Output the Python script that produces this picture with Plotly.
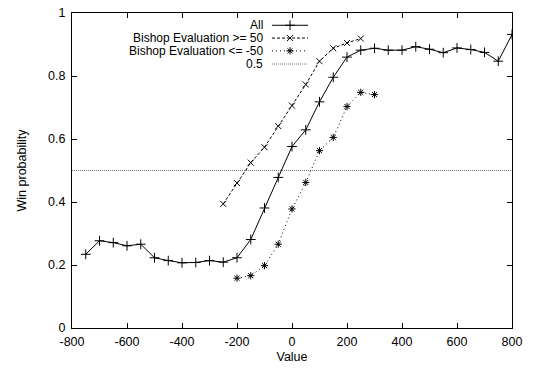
import plotly.graph_objects as go

x_all = [-750, -700, -650, -600, -550, -500, -450, -400, -350, -300, -250, -200, -150, -100, -50,
         0, 50, 100, 150, 200, 250, 300, 350, 400, 450, 500, 550, 600, 650, 700, 750, 800]
y_all = [0.234, 0.277, 0.271, 0.261, 0.266, 0.223, 0.214, 0.207, 0.208, 0.214, 0.209, 0.223, 0.281, 0.381, 0.478,
         0.576, 0.629, 0.718, 0.796, 0.860, 0.882, 0.888, 0.882, 0.882, 0.893, 0.885, 0.874, 0.889, 0.884, 0.875, 0.847, 0.932]

x_ge50 = [-250, -200, -150, -100, -50, 0, 50, 100, 150, 200, 250]
y_ge50 = [0.394, 0.460, 0.525, 0.574, 0.641, 0.706, 0.773, 0.847, 0.888, 0.905, 0.919]

x_le50 = [-200, -150, -100, -50, 0, 50, 100, 150, 200, 250, 300]
y_le50 = [0.158, 0.166, 0.198, 0.266, 0.378, 0.462, 0.563, 0.605, 0.703, 0.748, 0.741]

x_ref = [-800, 800]
y_ref = [0.5, 0.5]

legend_names = ["All", "Bishop Evaluation >= 50", "Bishop Evaluation <= -50", "0.5"]
x_ticks = [-800, -600, -400, -200, 0, 200, 400, 600, 800]
y_ticks = [0, 0.2, 0.4, 0.6, 0.8, 1]
y_ticklabels = ["0", "0.2", "0.4", "0.6", "0.8", "1"]

FONT = "Liberation Sans, Arial, sans-serif"
FS = 12.5
KFS = 12

ref_line = dict(color="#555", width=0.8, dash="1px,1px")
all_line = dict(color="black", width=1)
ge_line = dict(color="black", width=1, dash="3px,2px")
le_line = dict(color="black", width=1, dash="1px,3px")
all_marker = dict(symbol="cross-thin", size=7, color="black", line=dict(color="black", width=1))
ge_marker = dict(symbol="x-thin", size=6, color="black", line=dict(color="black", width=1))
le_marker = dict(symbol="asterisk-open", size=6, color="black", line=dict(color="black", width=1))

fig = go.Figure()
fig.add_trace(go.Scatter(x=x_ref, y=y_ref, mode="lines", line=ref_line, showlegend=False))
fig.add_trace(go.Scatter(x=x_all, y=y_all, mode="lines+markers", line=all_line, marker=all_marker, showlegend=False))
fig.add_trace(go.Scatter(x=x_ge50, y=y_ge50, mode="lines+markers", line=ge_line, marker=ge_marker, showlegend=False))
fig.add_trace(go.Scatter(x=x_le50, y=y_le50, mode="lines+markers", line=le_line, marker=le_marker, showlegend=False))

# gnuplot-style key drawn on an overlay axis in plot-fraction units
styles = [(all_line, all_marker), (ge_line, ge_marker), (le_line, le_marker), (ref_line, None)]
key_rows = [24.8, 37.6, 50.4, 63.6]  # pixel rows of the key entries
pw, ph = 440, 315.5
top = 12.5
left = 72
for name, (ln, mk), row in zip(legend_names, styles, key_rows):
    yy = 1 - (row - top) / ph
    x0 = (272 - left) / pw
    x1 = (308 - left) / pw
    xm = (290 - left) / pw
    fig.add_trace(go.Scatter(x=[x0, x1], y=[yy, yy], xaxis="x2", yaxis="y2", mode="lines",
                             line=ln, showlegend=False, hoverinfo="skip"))
    if mk is not None:
        fig.add_trace(go.Scatter(x=[xm], y=[yy], xaxis="x2", yaxis="y2", mode="markers",
                                 marker=mk, showlegend=False, hoverinfo="skip"))
    fig.add_annotation(x=(265 - left) / pw, y=yy, xref="x2", yref="y2", text=name,
                       showarrow=False, xanchor="right", yanchor="middle",
                       font=dict(family=FONT, size=KFS, color="black"))

axis_common = dict(showline=True, linecolor="black", linewidth=1, mirror="allticks",
                   ticks="inside", ticklen=5, tickcolor="black", tickwidth=1,
                   showgrid=False, zeroline=False, automargin=False,
                   tickfont=dict(family=FONT, size=FS, color="black"))

fig.update_layout(
    width=533, height=371,
    margin=dict(l=72, r=21, t=12.5, b=43),
    paper_bgcolor="white", plot_bgcolor="white",
    font=dict(family=FONT, size=FS, color="black"),
    hovermode=False,
    xaxis=dict(range=[-800, 800], tickvals=x_ticks, ticktext=[str(v) for v in x_ticks],
               title=dict(text="Value", font=dict(family=FONT, size=FS), standoff=4),
               ticklabelstandoff=2, **axis_common),
    yaxis=dict(range=[0, 1], tickvals=y_ticks, ticktext=y_ticklabels,
               title=dict(text="Win probability", font=dict(family=FONT, size=FS), standoff=18),
               ticklabelstandoff=3, **axis_common),
    xaxis2=dict(range=[0, 1], overlaying="x", visible=False, fixedrange=True),
    yaxis2=dict(range=[0, 1], overlaying="y", visible=False, fixedrange=True),
)

fig.write_html("out.html", config={"displayModeBar": False, "staticPlot": True},
               post_script="document.body.style.margin='0';document.body.style.overflow='hidden';")
